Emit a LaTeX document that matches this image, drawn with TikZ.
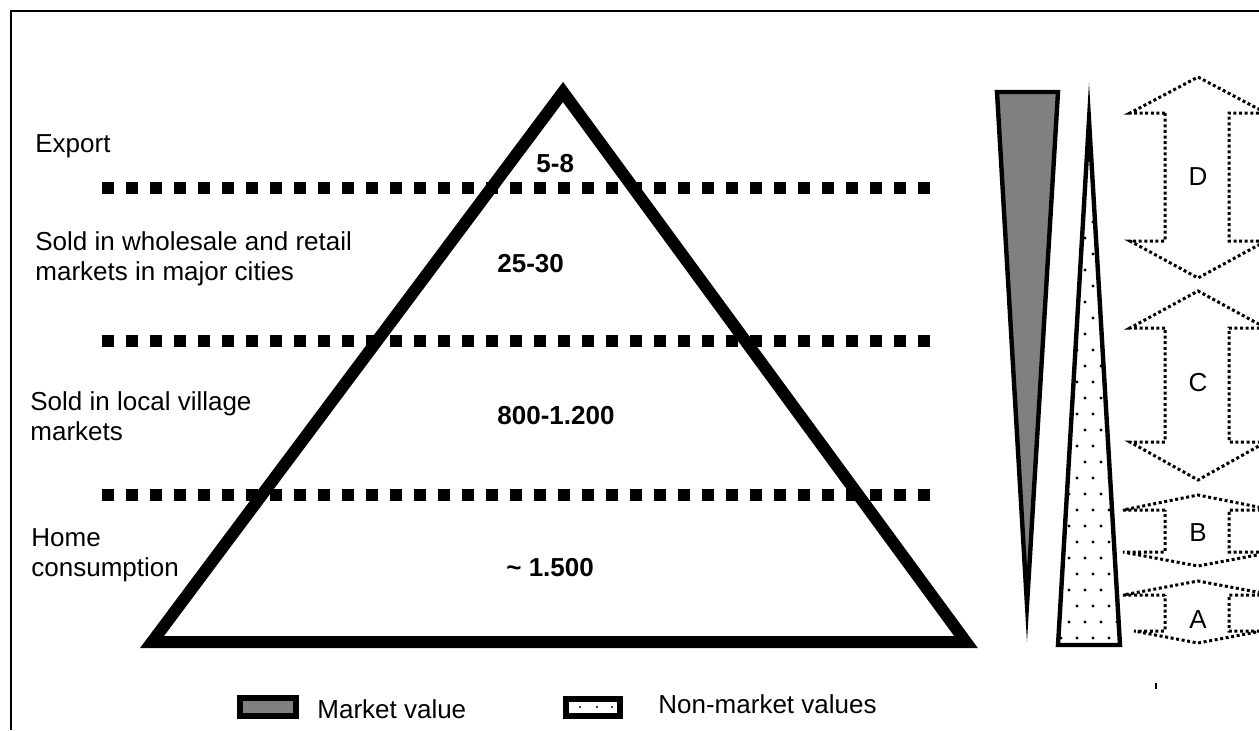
\documentclass[tikz,border=0pt]{standalone}
\usepackage{fontspec}
\setmainfont{Liberation Sans}
\usetikzlibrary{positioning}
\tikzset{
	tierline/.style={line width=6pt, dash pattern=on 6pt off 6pt},
	levelname/.style={anchor=base west, inner sep=0pt, align=left},
	volume/.style={anchor=base west, inner sep=0pt,
		font=\fontsize{13}{15}\selectfont\bfseries},
	wedge/.style={line width=2.2pt, miter limit=25},
	bandarrow/.style={line width=1.5pt, dash pattern=on 1.5pt off 1.3pt},
	letter/.style={inner sep=0pt},
	marketfill/.style={fill=black!50}
}

\begin{document}
\begin{tikzpicture}[x=0.5pt, y=-0.5pt, font=\fontsize{13}{15}\selectfont]

\useasboundingbox (0,0) rectangle (1259,730);

% frame
\draw[line width=1.15pt] (11.3,730) -- (11.3,11.3) -- (1259,11.3);

% tiers
\draw[tierline] (102,188) -- (930,188);
\draw[tierline] (102,341) -- (930,341);
\draw[tierline] (102,495) -- (930,495);

% pyramid
\draw[line width=6pt] (152,642) -- (563,92) -- (966,642) -- cycle;

\node[levelname] (export) at (35,152) {Export};
\node[levelname] (wholesale) at (35,280)
	{Sold in wholesale and retail\\markets in major cities};
\node[levelname] (village) at (30,440) {Sold in local village\\markets};
\node[levelname] (home) at (31,576) {Home\\consumption};

\node[volume] (vol58) at (536,172) {5-8};
\node[volume] (vol2530) at (497,272) {25-30};
\node[volume] (vol800) at (497,424) {800-1.200};
\node[volume] (vol1500) at (506,576) {\textasciitilde{} 1.500};

% wedges
\draw[wedge, marketfill] (997,92) -- (1058,92) -- (1027,605) -- cycle;

\begin{scope}
\clip (1058,645) -- (1089,120) -- (1120,645) -- cycle;
\foreach \r in {0,...,33}
	\foreach \c in {0,...,4}
		\fill ({1061+16*\c+8*mod(\r,2)}, {126+16*\r}) circle[radius=0.8pt];
\end{scope}
\draw[wedge] (1058,645) -- (1089,120) -- (1120,645) -- cycle;

% value bands
\draw[bandarrow] (1165,113) -- (1130,113) -- (1198,77) -- (1266,113) -- (1229,113)
	-- (1229,241) -- (1266,241) -- (1198,278) -- (1130,241) -- (1165,241) -- cycle;
\draw[bandarrow] (1165,328) -- (1130,328) -- (1198,291) -- (1266,328) -- (1229,328)
	-- (1229,442) -- (1266,442) -- (1198,480) -- (1130,442) -- (1165,442) -- cycle;
\draw[bandarrow] (1165,510) -- (1123,510) -- (1198,495) -- (1273,510) -- (1229,510)
	-- (1229,552) -- (1273,552) -- (1198,566) -- (1123,552) -- (1165,552) -- cycle;
\draw[bandarrow] (1165,595) -- (1123,595) -- (1198,581) -- (1273,595) -- (1229,595)
	-- (1229,631) -- (1262,631) -- (1198,643) -- (1134,631) -- (1165,631) -- cycle;

\node[letter] (bandD) at (1198,177) {D};
\node[letter] (bandC) at (1198,383) {C};
\node[letter] (bandB) at (1198,533) {B};
\node[letter] (bandA) at (1198,620) {A};

\draw[line width=1pt] (1156,683) -- (1156,689);

% legend
\draw[line width=3pt, marketfill] (240,698) rectangle (296,716);
\node[levelname] (keymarket) at (317,718) {Market value};

\draw[line width=3pt] (566,699) rectangle (620,716);
\fill (580,707) circle[radius=0.6pt];
\fill (597,707) circle[radius=0.6pt];
\fill (612,707) circle[radius=0.6pt];
\node[levelname] (keynonmarket) at (658,713) {Non-market values};

\end{tikzpicture}
\end{document}
